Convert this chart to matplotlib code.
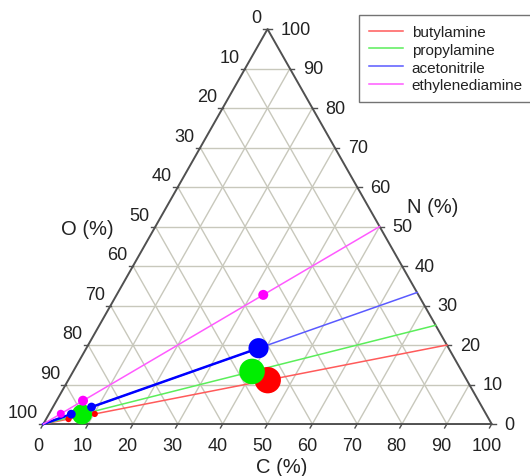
import numpy as np
import matplotlib.pyplot as plt

plt.rcParams["font.family"] = ["Liberation Sans", "DejaVu Sans"]

# 元素組成 (C %, N %) ; O = 100 - C - N
series = ["butylamine", "propylamine", "acetonitrile", "ethylenediamine"]
end_n = [20.0, 25.0, 33.3, 50.0]          # 直線の右端 (O = 0)
point_c = [
    [5.0, 10.2, 44.5],
    [7.4, 39.9],
    [5.0, 8.6, 38.4],
    [2.6, 5.9, 32.7],
]
point_n = [
    [1.25, 2.55, 11.1],
    [2.45, 13.3],
    [2.5, 4.3, 19.2],
    [2.6, 5.9, 32.7],
]
point_size = [
    [20, 20, 360],
    [210, 340],
    [40, 40, 210],
    [33, 52, 52],
]
ticks = list(range(0, 101, 10))

marker_colors = ["#ff0000", "#00ee00", "#0000ff", "#ff00ff"]
line_colors = ["#ff5a5a", "#5aee5a", "#5a5aff", "#ff5aff"]

H = np.sqrt(3) / 2


def tern(c, n):
    """(C, N) を直交座標に変換"""
    c = np.asarray(c, dtype=float)
    n = np.asarray(n, dtype=float)
    return c + n / 2, n * H


def main():
    fig = plt.figure(figsize=(5.3, 4.77), dpi=100)
    ax = fig.add_axes([0, 0, 1, 1])
    ax.set_xlim(-9.66, 108.54)
    ax.set_ylim(-11.4, 93.2)
    ax.axis("off")

    grid_color = "#c8c8bc"
    for v in ticks[1:-1]:
        # N 一定
        x, y = tern([0, 100 - v], [v, v])
        ax.plot(x, y, color=grid_color, lw=1, zorder=1)
        # C 一定
        x, y = tern([v, v], [0, 100 - v])
        ax.plot(x, y, color=grid_color, lw=1, zorder=1)
        # O 一定
        x, y = tern([100 - v, 0], [0, 100 - v])
        ax.plot(x, y, color=grid_color, lw=1, zorder=1)

    # 三角形の枠
    x, y = tern([0, 100, 0, 0], [0, 0, 100, 0])
    ax.plot(x, y, color="#505050", lw=1.4, zorder=2)

    text_color = "#222222"
    fs = 13
    tick_len = 1.0
    for v in ticks:
        # C 軸 (下)
        x, y = tern(v, 0)
        ax.plot([x, x - tick_len * 0.5], [y, y - tick_len * H], color="#505050", lw=1, zorder=2)
        ax.text(x - 1.2, y - 4.8, str(v), ha="center", va="center",
                fontsize=fs, color=text_color)
        # N 軸 (右)
        x, y = tern(100 - v, v)
        ax.plot([x, x + tick_len], [y, y], color="#505050", lw=1, zorder=2)
        ax.text(x + 2.9, y, str(v), ha="left", va="center",
                fontsize=fs, color=text_color)
        # O 軸 (左)
        x, y = tern(0, 100 - v)
        ax.plot([x, x - tick_len], [y, y], color="#505050", lw=1, zorder=2)
        ax.text(x - 1.3, y + 2.5, str(v), ha="right", va="center",
                fontsize=fs, color=text_color)

    ax.text(53.2, -9.3, "C (%)", ha="center", va="center", fontsize=14.5, color=text_color)
    ax.text(86.9, 47.8, "N (%)", ha="center", va="center", fontsize=14.5, color=text_color)
    ax.text(9.8, 42.8, "O (%)", ha="center", va="center", fontsize=14.5, color=text_color)

    for i, name in enumerate(series):
        # 原点 (O = 100) から O = 0 の辺までの直線
        x, y = tern([0, 100 - end_n[i]], [0, end_n[i]])
        ax.plot(x, y, color=line_colors[i], lw=1.1, label=name, zorder=3)

        px, py = tern(point_c[i], point_n[i])
        if name == "acetonitrile":
            x0, y0 = tern([0] + point_c[i], [0] + point_n[i])
            ax.plot(x0, y0, color=marker_colors[i], lw=1.8, zorder=3)
        ax.scatter(px, py, s=point_size[i], color=marker_colors[i],
                   edgecolors="none", zorder=4)

    leg = ax.legend(loc="upper left", bbox_to_anchor=(359 / 530, 1 - 16 / 477),
                    bbox_transform=fig.transFigure, fontsize=11,
                    frameon=True, fancybox=False, borderaxespad=0,
                    borderpad=0.65, handlelength=2.2, handletextpad=0.6,
                    labelspacing=0.25)
    leg.get_frame().set_edgecolor("#505050")
    leg.get_frame().set_linewidth(1.0)
    for t in leg.get_texts():
        t.set_color(text_color)

    fig.savefig("out.png", dpi=100)


if __name__ == "__main__":
    main()
